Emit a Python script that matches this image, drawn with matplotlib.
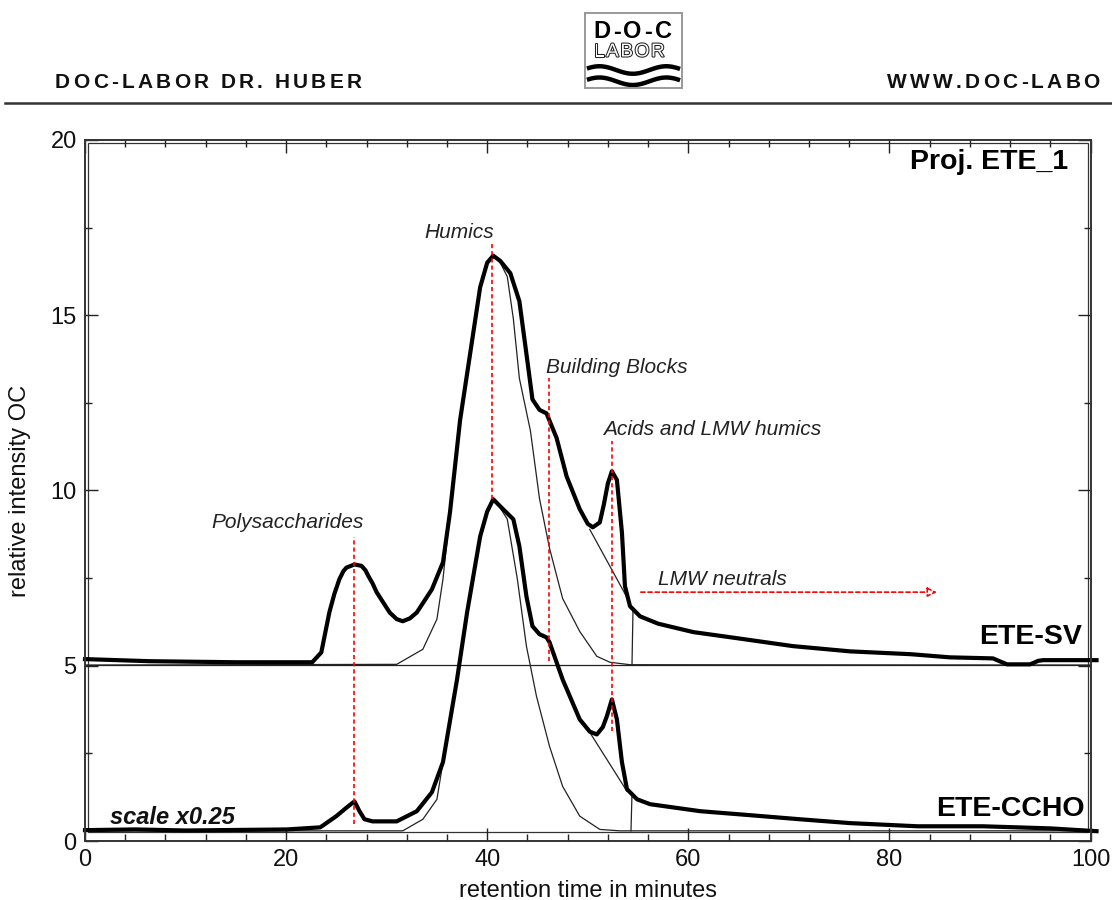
import numpy as np
import matplotlib
matplotlib.use("Agg")
import matplotlib.pyplot as plt
from matplotlib.patches import Rectangle
import matplotlib.patheffects as pe

plt.rcParams['font.family'] = ['Liberation Sans', 'DejaVu Sans']

# ETE-SV sample (offset +5), thick trace
sv_x = [0, 6.4, 15, 22.6, 23.5, 24.3, 24.8, 25.3, 25.7, 26.0, 26.8, 27.5, 27.9, 28.2, 28.6, 29.0,
        30.3, 31.0, 31.6, 32.3, 33.0, 34.5, 35.6, 36.3, 37.3, 38.3, 39.3, 40.0, 40.6, 41.3,
        42.3, 43.2, 43.9, 44.5, 45.2, 45.9, 46.9, 47.9, 49.2, 50.0, 50.5, 51.2, 51.6, 52.0,
        52.4, 52.9, 53.4, 53.7, 54.2, 55.2, 57.0, 60.5, 65.0, 70.4, 76.1, 82.1, 86.0, 90.3,
        91.2, 91.7, 94.0, 94.8, 95.3, 100.6]
sv_y = [5.19, 5.13, 5.10, 5.10, 5.38, 6.52, 7.05, 7.47, 7.70, 7.80, 7.89, 7.85, 7.72, 7.55, 7.35, 7.10,
        6.52, 6.33, 6.27, 6.35, 6.52, 7.18, 7.95, 9.38, 12.0, 13.9, 15.8, 16.5, 16.7, 16.55,
        16.2, 15.4, 13.9, 12.6, 12.3, 12.2, 11.5, 10.4, 9.47, 9.05, 8.95, 9.09, 9.6, 10.2,
        10.55, 10.3, 8.8, 7.27, 6.70, 6.41, 6.20, 5.96, 5.78, 5.56, 5.41, 5.33, 5.24, 5.21,
        5.10, 5.04, 5.04, 5.14, 5.16, 5.16]

# ETE-SV humic peak fit (thin)
sv_fit_x = [0, 31.0, 33.6, 35.0, 35.6, 36.3, 37.3, 38.3, 39.3, 40.0, 40.6, 41.3, 42.0, 42.6,
            43.2, 44.3, 45.2, 46.2, 47.5, 49.2, 50.9, 52.2, 54.2, 100]
sv_fit_y = [5.02, 5.04, 5.47, 6.33, 7.47, 9.38, 12.0, 13.9, 15.8, 16.5, 16.7, 16.5, 16.1, 14.9,
            13.2, 11.7, 9.77, 8.35, 6.92, 5.98, 5.27, 5.10, 5.03, 5.02]

# ETE-CCHO sample (scale x0.25), thick trace
cc_x = [0, 5, 10, 20.1, 23.4, 25.0, 26.0, 26.8, 27.3, 27.8, 28.6, 31.0, 33.0, 34.5, 35.6, 37.0,
        38.0, 39.3, 40.0, 40.6, 41.6, 42.6, 43.2, 43.9, 44.5, 45.2, 45.9, 46.2, 47.5, 49.2,
        50.2, 50.9, 51.5, 51.9, 52.4, 52.9, 53.4, 53.9, 54.9, 56.2, 61.2, 66.0, 71.1, 76.1,
        82.8, 89.3, 96.0, 100.6]
cc_y = [0.31, 0.33, 0.30, 0.33, 0.39, 0.71, 0.95, 1.13, 0.85, 0.62, 0.56, 0.56, 0.85, 1.39, 2.25,
        4.61, 6.52, 8.69, 9.4, 9.75, 9.46, 9.18, 8.41, 6.98, 6.13, 5.90, 5.81, 5.67, 4.61, 3.47,
        3.12, 3.04, 3.25, 3.56, 4.04, 3.47, 2.25, 1.48, 1.19, 1.05, 0.85, 0.74, 0.62, 0.51,
        0.42, 0.42, 0.36, 0.28]

# ETE-CCHO humic peak fit (thin)
cc_fit_x = [0, 31.6, 33.6, 35.0, 35.6, 37.0, 38.0, 39.3, 40.0, 40.6, 41.3, 42.0, 43.0, 43.9,
            44.9, 46.2, 47.5, 49.2, 51.2, 53.2, 100]
cc_fit_y = [0.29, 0.29, 0.62, 1.19, 2.25, 4.61, 6.52, 8.69, 9.4, 9.75, 9.5, 9.18, 7.47, 5.56,
            4.13, 2.70, 1.56, 0.71, 0.33, 0.29, 0.29]

# integration helper lines (acids baseline + LMW cut)
sv_diag_x, sv_diag_y = [50.2, 53.9], [8.89, 6.95]
sv_cut_x, sv_cut_y = [54.5, 54.4], [6.6, 5.02]
cc_diag_x, cc_diag_y = [50.2, 53.9], [3.10, 1.42]
cc_cut_x, cc_cut_y = [54.4, 54.3], [1.35, 0.29]

# fraction markers
frac_names = ['Polysaccharides', 'Humics', 'Building Blocks', 'Acids and LMW humics']
frac_x = [26.8, 40.5, 46.1, 52.4]
frac_top = [8.66, 17.05, 13.2, 11.4]
frac_bottom = [0.48, 9.75, 5.13, 3.13]
lmw_y = 7.1
lmw_x = [55.0, 85.0]

fig = plt.figure(figsize=(11.12, 9.0), dpi=100)


def spaced_text(x, y, s, gap, **kw):
    r = fig.canvas.get_renderer()
    for ch in s:
        t = fig.text(x, y, ch, **kw)
        w = t.get_window_extent(r).width / fig.bbox.width
        x += w + gap


# header
spaced_text(55 / 1112, 1 - 82 / 900, 'DOC-LABOR DR. HUBER', 3.2 / 1112,
            fontsize=15, fontweight='bold', va='center', color='#111111')
spaced_text(887 / 1112, 1 - 82 / 900, 'WWW.DOC-LABO', 3.2 / 1112,
            fontsize=15, fontweight='bold', va='center', color='#111111')
fig.add_artist(plt.Line2D([5 / 1112, 1], [1 - 103 / 900] * 2, color='#333333', lw=1.8))

# logo
lax = fig.add_axes([585 / 1112, 1 - 88 / 900, 97 / 1112, 75 / 900])
lax.set_xlim(0, 1)
lax.set_ylim(0, 1)
lax.set_xticks([])
lax.set_yticks([])
for s in lax.spines.values():
    s.set_color('#999999')
    s.set_linewidth(1.4)
spaced_text(593 / 1112, 1 - 32 / 900, 'D-O-C', 2.6 / 1112, fontsize=17, fontweight='heavy',
            va='center', color='black')
spaced_text(594 / 1112, 1 - 52 / 900, 'LABOR', 1.8 / 1112, fontsize=13.5, va='center',
            color='white', path_effects=[pe.withStroke(linewidth=1.5, foreground='#222222')])
wx = np.linspace(0.02, 0.98, 120)
for off in [0.24, 0.09]:
    lax.plot(wx, off + 0.05 * np.sin((wx - 0.02) * 2 * np.pi * 1.45 + 0.4), color='black',
             lw=3.2, solid_capstyle='butt')

# main chart
ax = fig.add_axes([85 / 1112, 1 - 841 / 900, 1005.5 / 1112, 701 / 900])
ax.set_xlim(0, 100)
ax.set_ylim(0, 20)

thin = dict(color='#222222', lw=0.9)
thick = dict(color='black', lw=3.0, solid_joinstyle='round', clip_on=False)

ax.plot([0, 100], [5.02, 5.02], **thin)
ax.plot(sv_fit_x, sv_fit_y, **thin)
ax.plot(cc_fit_x, cc_fit_y, **thin)
ax.plot(sv_diag_x, sv_diag_y, **thin)
ax.plot(sv_cut_x, sv_cut_y, **thin)
ax.plot(cc_diag_x, cc_diag_y, **thin)
ax.plot(cc_cut_x, cc_cut_y, **thin)
ax.plot(sv_x, sv_y, **thick)
ax.plot(cc_x, cc_y, **thick)

for fx, ft, fb in zip(frac_x, frac_top, frac_bottom):
    ax.plot([fx, fx], [fb, ft], color='red', lw=1.2, ls=(0, (2.5, 1.8)))
ax.annotate('', xy=(lmw_x[1], lmw_y), xytext=(lmw_x[0], lmw_y),
            arrowprops=dict(arrowstyle='-|>', color='red', lw=1.2, ls=(0, (2.5, 1.8)),
                            fc='white', mutation_scale=14))

lab = dict(fontsize=15, style='italic', color='#222222', va='center')
ax.text(20.1, 9.09, frac_names[0], ha='center', **lab)
ax.text(37.2, 17.37, frac_names[1], ha='center', **lab)
ax.text(45.8, 13.5, frac_names[2], ha='left', **lab)
ax.text(51.5, 11.75, frac_names[3], ha='left', **lab)
ax.text(57.0, 7.47, 'LMW neutrals', ha='left', **lab)
ax.text(2.5, 0.68, 'scale x0.25', ha='left', va='center', fontsize=17, style='italic',
        fontweight='bold', color='#111111')
ax.text(99.2, 5.81, 'ETE-SV', ha='right', va='center', fontsize=20.5, fontweight='bold')
ax.text(99.4, 0.91, 'ETE-CCHO', ha='right', va='center', fontsize=20.5, fontweight='bold')
ax.text(97.8, 19.36, 'Proj. ETE_1', ha='right', va='center', fontsize=20.5, fontweight='bold')

# double frame
for s in ax.spines.values():
    s.set_color('#333333')
    s.set_linewidth(1.4)
ax.add_patch(Rectangle((3 / 1005.5, 9 / 701), 1 - 6 / 1005.5, 1 - 12 / 701,
                       transform=ax.transAxes, fill=False, ec='#333333', lw=0.9, clip_on=False))

ax.set_xticks(range(0, 101, 20))
ax.set_xticks(np.arange(0, 101, 4), minor=True)
ax.set_yticks(range(0, 21, 5))
ax.set_yticks(np.arange(0, 20.1, 2.5), minor=True)
ax.tick_params(which='both', direction='in', top=True, right=True, color='#222222',
               labelsize=17, labelcolor='#111111')
ax.tick_params(which='major', length=9.5, width=1.0, pad=6)
ax.tick_params(which='minor', length=5, width=1.0)
ax.set_xlabel('retention time in minutes', fontsize=17, color='#111111', labelpad=6)
ax.set_ylabel('relative intensity OC', fontsize=17, color='#111111', labelpad=14)

plt.savefig('out.png', dpi=100)
